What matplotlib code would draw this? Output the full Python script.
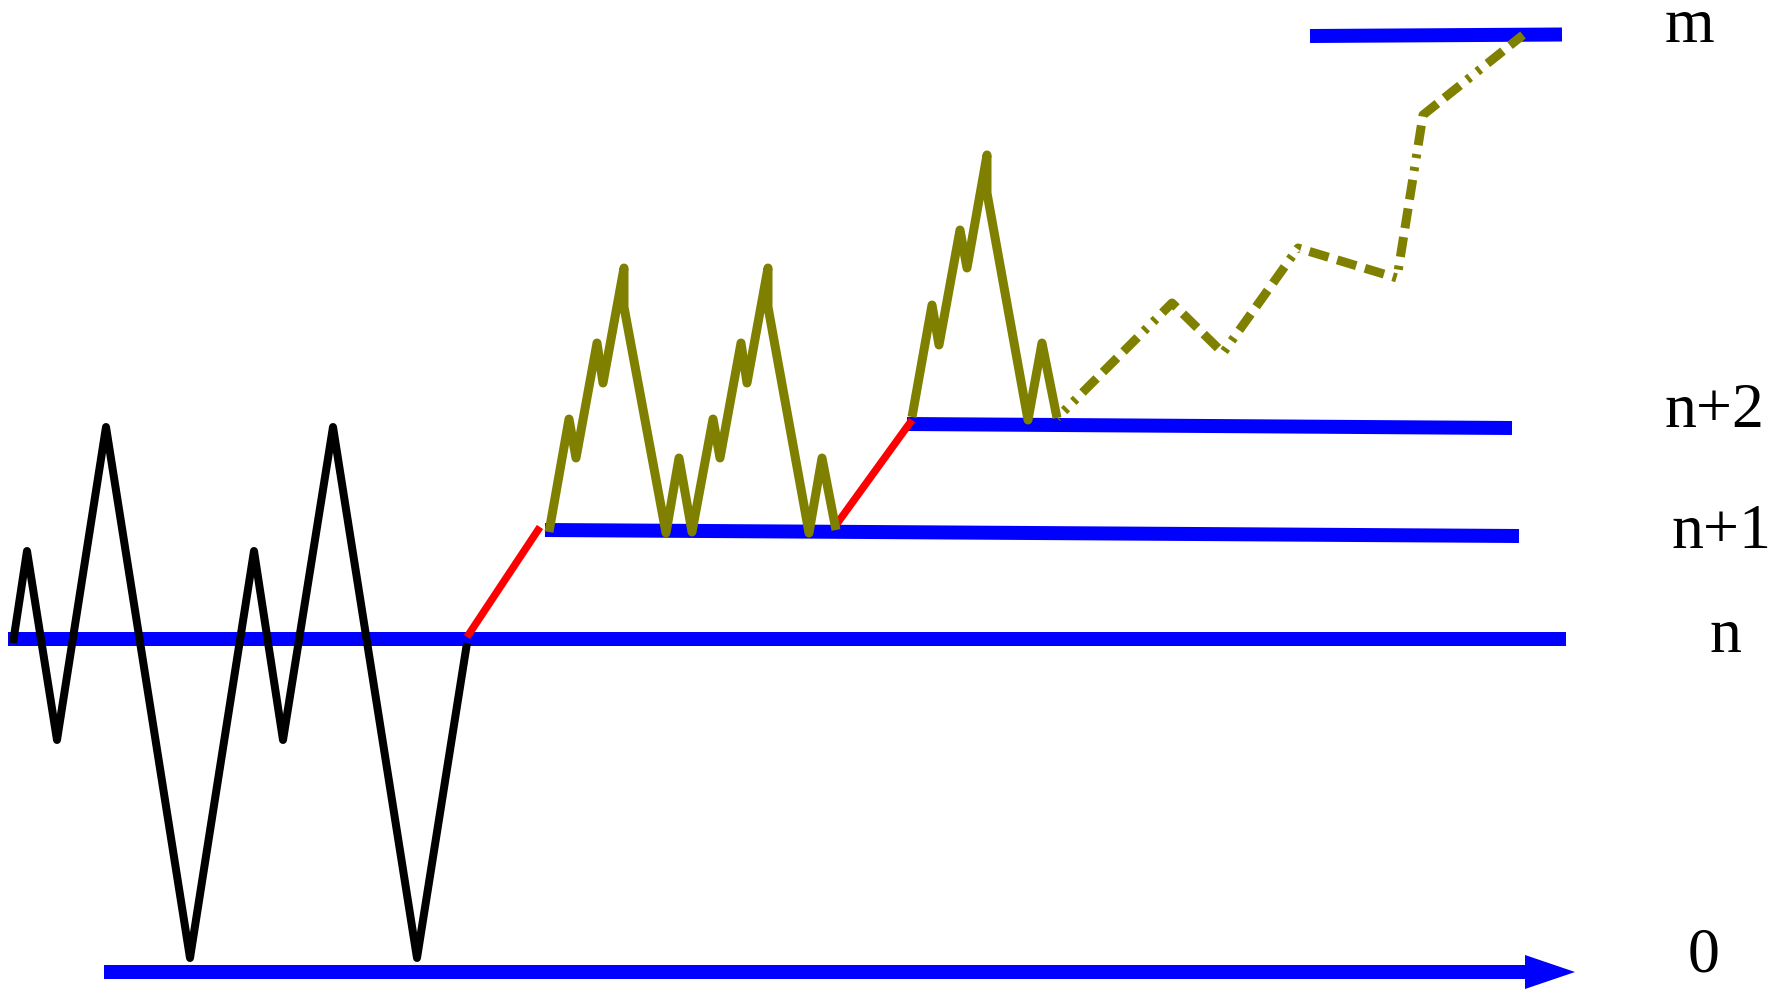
import matplotlib
matplotlib.use("Agg")
import matplotlib.pyplot as plt

levels_labels = ["m", "n+2", "n+1", "n", "0"]
label_x = [1665, 1665, 1672, 1710, 1688]
label_baseline = [42, 427, 548, 652, 972]

# horizontal blue levels: (x_start, x_end, y_start, y_end)
level_n = [8, 1566, 639, 639]
level_n1 = [545, 1519, 530, 536]
level_n2 = [907, 1512, 424, 428]
level_m = [1310, 1562, 36, 34.5]

# axis arrow
axis_x0, axis_x1, axis_y = 104, 1575, 972

# black random walk
black_x = [13, 27, 57, 106, 190, 254, 283, 333, 417, 467]
black_y = [643, 551, 740, 427, 958, 551, 740, 427, 958, 643]

# red jumps
red1_x = [467, 540]
red1_y = [637, 527]
red2_x = [836, 912]
red2_y = [525, 420]

# olive solid walks
olive1_x = [549, 569, 576, 597, 603, 624, 624, 666, 679, 692, 713, 720, 741, 747, 768, 768, 809, 822, 836]
olive1_y = [532, 419, 458, 343, 383, 268, 307, 533, 458, 532, 419, 458, 343, 383, 268, 307, 533, 458, 530]
olive2_x = [912, 932, 939, 960, 967, 987, 987, 1028, 1042, 1057]
olive2_y = [417, 305, 345, 230, 268, 155, 193, 420, 343, 418]

# olive dashed continuation
dash_x = [1057, 1172, 1223, 1298, 1397, 1423, 1523]
dash_y = [418, 303, 353, 248, 278, 115, 35]

W, H = 1781, 990
plt.rcParams["lines.scale_dashes"] = False
fig = plt.figure(figsize=(W / 100, H / 100), dpi=100)
ax = fig.add_axes([0, 0, 1, 1])
ax.set_xlim(0, W)
ax.set_ylim(H, 0)
ax.axis("off")

BLUE = "#0000ff"
OLIVE = "#808000"
px = 0.72  # points per pixel at dpi 100

for lv in (level_n, level_n1, level_n2, level_m):
    ax.plot(lv[:2], lv[2:], color=BLUE, lw=14 * px, solid_capstyle="butt", zorder=1)

ax.plot([axis_x0, axis_x1 - 50], [axis_y, axis_y], color=BLUE, lw=14 * px,
        solid_capstyle="butt", zorder=1)
ax.fill([axis_x1 - 50, axis_x1, axis_x1 - 50],
        [axis_y - 17, axis_y, axis_y + 17], color=BLUE, lw=0, zorder=1)

ax.plot(black_x, black_y, color="black", lw=8 * px, solid_joinstyle="round",
        solid_capstyle="butt", zorder=3)
ax.plot(red1_x, red1_y, color="red", lw=7.5 * px, solid_capstyle="butt", zorder=3)
ax.plot(red2_x, red2_y, color="red", lw=7.5 * px, solid_capstyle="butt", zorder=3)
for xs, ys in ((olive1_x, olive1_y), (olive2_x, olive2_y)):
    ax.plot(xs, ys, color=OLIVE, lw=9 * px, solid_joinstyle="round",
            solid_capstyle="butt", zorder=3)

pattern = [20, 9, 20, 9, 20, 9, 4, 9, 4, 9]
pattern = [p * px for p in pattern]
ax.plot(dash_x, dash_y, color=OLIVE, lw=9 * px,
        linestyle=(77 * px, pattern), dash_capstyle="butt", zorder=3)

for lab, x, y in zip(levels_labels, label_x, label_baseline):
    ax.text(x, y, lab, ha="left", va="baseline", fontsize=46,
            family=["Liberation Serif", "DejaVu Serif"], color="black")

fig.savefig("out.png", dpi=100, facecolor="white")
